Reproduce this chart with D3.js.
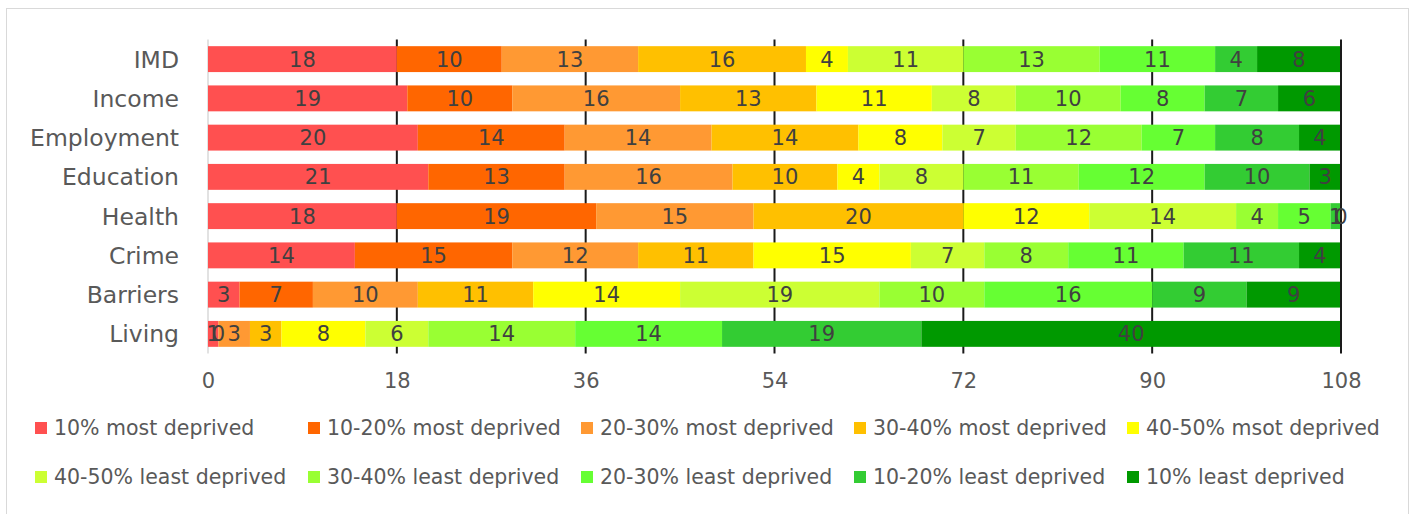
<!DOCTYPE html>
<html>
<head>
<meta charset="utf-8">
<script src="https://cdn.jsdelivr.net/npm/d3@7"></script>
<style>
  html, body { margin: 0; padding: 0; background: #fff; }
  svg { display: block; }
  text { font-family: "DejaVu Sans", sans-serif; }
</style>
</head>
<body>
<svg id="chart" width="1417" height="514"></svg>
<script>
// Domains of deprivation, top to bottom
const categories = ["IMD", "Income", "Employment", "Education", "Health", "Crime", "Barriers", "Living"];

// Decile bands, from most to least deprived
const seriesNames = [
  "10% most deprived", "10-20% most deprived", "20-30% most deprived",
  "30-40% most deprived", "40-50% msot deprived",
  "40-50% least deprived", "30-40% least deprived", "20-30% least deprived",
  "10-20% least deprived", "10% least deprived"
];

// Number of areas in each band, per domain (same order as categories)
const most10    = [18, 19, 20, 21, 18, 14, 3, 1];
const most10_20 = [10, 10, 14, 13, 19, 15, 7, 0];
const most20_30 = [13, 16, 14, 16, 15, 12, 10, 3];
const most30_40 = [16, 13, 14, 10, 20, 11, 11, 3];
const most40_50 = [4, 11, 8, 4, 12, 15, 14, 8];
const least40_50 = [11, 8, 7, 8, 14, 7, 19, 6];
const least30_40 = [13, 10, 12, 11, 4, 8, 10, 14];
const least20_30 = [11, 8, 7, 12, 5, 11, 16, 14];
const least10_20 = [4, 7, 8, 10, 1, 11, 9, 19];
const least10    = [8, 6, 4, 3, 0, 4, 9, 40];

const seriesValues = [most10, most10_20, most20_30, most30_40, most40_50,
                      least40_50, least30_40, least20_30, least10_20, least10];

const tickValues = [0, 18, 36, 54, 72, 90, 108];

const colors = ["#FF5050", "#FF6600", "#FF9933", "#FFC000", "#FFFF00",
                "#CCFF33", "#99FF33", "#66FF33", "#33CC33", "#009900"];

// Build rows for the stack layout
const rows = categories.map((c, i) => {
  const r = { category: c };
  seriesNames.forEach((s, j) => { r[s] = seriesValues[j][i]; });
  return r;
});
const stacked = d3.stack().keys(seriesNames)(rows);

const svg = d3.select("#chart");

// Outer frame
svg.append("rect")
  .attr("x", 6.5).attr("y", 8.5)
  .attr("width", 1402).attr("height", 520)
  .attr("fill", "none").attr("stroke", "#d9d9d9").attr("stroke-width", 1);

const x = d3.scaleLinear().domain([0, 108]).range([208, 1341]);
const plotTop = 39.5, plotBottom = 353.5;
const y = d3.scaleBand().domain(categories).range([plotTop, plotBottom]).paddingInner(0.34).paddingOuter(0.17);

// Vertical gridlines (behind the bars)
svg.append("g").selectAll("line")
  .data(tickValues.filter(t => t > 0 && t < 108))
  .join("line")
  .attr("x1", d => x(d)).attr("x2", d => x(d))
  .attr("y1", plotTop).attr("y2", plotBottom)
  .attr("stroke", "#1a1a1a").attr("stroke-width", 2);

// Category axis line at zero
svg.append("line")
  .attr("x1", x(0)).attr("x2", x(0)).attr("y1", plotTop).attr("y2", plotBottom)
  .attr("stroke", "#d9d9d9").attr("stroke-width", 1.5);

// Bars
const layers = svg.append("g").selectAll("g")
  .data(stacked)
  .join("g")
  .attr("fill", (d, i) => colors[i]);

layers.selectAll("rect")
  .data(d => d)
  .join("rect")
  .attr("x", d => x(d[0]))
  .attr("y", d => y(d.data.category))
  .attr("width", d => x(d[1]) - x(d[0]))
  .attr("height", y.bandwidth());

// Right boundary line
svg.append("line")
  .attr("x1", x(108)).attr("x2", x(108)).attr("y1", plotTop).attr("y2", plotBottom)
  .attr("stroke", "#1a1a1a").attr("stroke-width", 2);

// Value labels
const labels = svg.append("g");
stacked.forEach(layer => {
  labels.selectAll(null)
    .data(layer)
    .join("text")
    .attr("x", d => (x(d[0]) + x(d[1])) / 2)
    .attr("y", d => y(d.data.category) + y.bandwidth() / 2)
    .attr("dy", "0.36em")
    .attr("text-anchor", "middle")
    .attr("font-size", 21)
    .attr("fill", "#404040")
    .text(d => d[1] - d[0]);
});

// Category labels
svg.append("g").selectAll("text")
  .data(categories)
  .join("text")
  .attr("x", 179)
  .attr("y", d => y(d) + y.bandwidth() / 2)
  .attr("dy", "0.36em")
  .attr("text-anchor", "end")
  .attr("font-size", 23.5)
  .attr("fill", "#595959")
  .text(d => d);

// Bottom value axis
const axis = svg.append("g")
  .attr("transform", `translate(0,${plotBottom + 20})`)
  .call(d3.axisBottom(x).tickValues(tickValues).tickSize(0).tickPadding(0));
axis.select(".domain").remove();
axis.selectAll("text")
  .attr("font-family", "DejaVu Sans")
  .attr("font-size", 21)
  .attr("fill", "#595959");

// Legend
const legend = svg.append("g");
seriesNames.forEach((s, i) => {
  const col = i % 5, row = Math.floor(i / 5);
  const lx = 35 + col * 273, ly = 428 + row * 49;
  legend.append("rect")
    .attr("x", lx).attr("y", ly - 6)
    .attr("width", 12).attr("height", 12)
    .attr("fill", colors[i]);
  legend.append("text")
    .attr("x", lx + 19).attr("y", ly)
    .attr("dy", "0.36em")
    .attr("font-size", 20.5)
    .attr("fill", "#595959")
    .text(s);
});
</script>
</body>
</html>
